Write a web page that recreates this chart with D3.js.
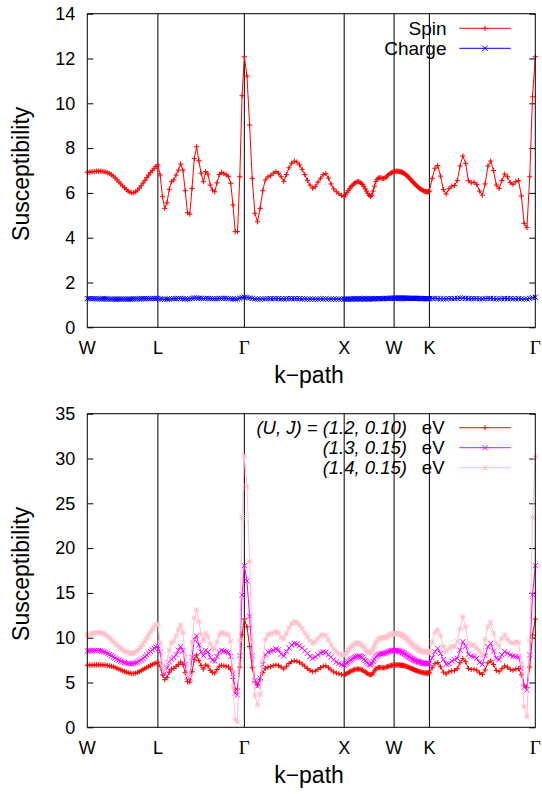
<!DOCTYPE html>
<html>
<head>
<meta charset="utf-8">
<script src="https://cdn.jsdelivr.net/npm/d3@7/dist/d3.min.js"></script>
<style>
  html, body { margin: 0; padding: 0; background: #fff; }
  svg { display: block; }
</style>
</head>
<body>
<svg id="chart" width="542" height="794"></svg>
<script>
// High-symmetry points of the FCC path and their cumulative k-distance (2π/a)
const kLabels = ["W", "L", "Γ", "X", "W", "K", "Γ"];
const kTicks = [0, 0.7071, 1.5731, 2.5731, 3.0731, 3.4267, 4.4874];
const pointsPerSegment = 38;

// Spin susceptibility, (U, J) = (1.2, 0.10) eV
const spin = [
  6.92, 6.93, 6.94, 6.95, 6.96, 6.97, 6.97, 6.97, 6.96, 6.95, 6.93, 6.90, 6.86, 6.81, 6.75, 6.67, 6.58, 6.49, 6.40, 6.31,
  6.23, 6.15, 6.08, 6.03, 6.00, 6.01, 6.05, 6.12, 6.21, 6.32, 6.44, 6.56, 6.68, 6.80, 6.91, 7.01, 7.10, 7.18,
  7.25, 6.80, 5.83, 5.31, 5.56, 6.16, 6.50, 6.58, 6.80, 7.02, 7.29, 7.02, 6.10, 5.12, 5.05, 6.20, 7.54, 8.06, 7.44, 6.88,
  6.50, 6.95, 6.84, 6.35, 6.13, 6.05, 6.45, 6.82, 6.92, 6.86, 6.81, 6.74, 6.43, 5.46, 4.27, 4.27, 6.72, 10.34,
  12.08, 11.22, 9.03, 6.65, 5.09, 4.71, 5.31, 6.10, 6.58, 6.72, 6.77, 6.88, 6.95, 6.88, 6.72, 6.52, 6.82, 7.12, 7.32, 7.42,
  7.38, 7.25, 7.05, 6.82, 6.56, 6.35, 6.21, 6.28, 6.48, 6.66, 6.82, 6.86, 6.66, 6.40, 6.18, 6.05, 5.96, 5.89,
  5.83, 5.92, 6.01, 6.10, 6.18, 6.26, 6.33, 6.39, 6.44, 6.48, 6.50, 6.50, 6.48, 6.43, 6.37, 6.28, 6.18, 6.08, 5.98, 5.89,
  5.84, 5.90, 6.08, 6.30, 6.50, 6.61, 6.66, 6.68, 6.67, 6.65, 6.64, 6.66, 6.71, 6.77, 6.83, 6.87, 6.90, 6.93,
  6.95, 6.96, 6.96, 6.96, 6.96, 6.96, 6.95, 6.94, 6.93, 6.91, 6.89, 6.86, 6.83, 6.80, 6.76, 6.72, 6.68, 6.63, 6.59, 6.54,
  6.50, 6.46, 6.41, 6.37, 6.33, 6.29, 6.25, 6.22, 6.19, 6.16, 6.13, 6.11, 6.09, 6.07, 6.06, 6.05, 6.05, 6.06,
  6.08, 6.65, 7.10, 7.22, 6.75, 6.15, 5.95, 6.18, 6.30, 6.33, 6.55, 7.20, 7.65, 7.32, 6.55, 6.45, 6.48, 6.38, 6.08, 5.90,
  6.40, 7.20, 7.42, 7.00, 6.35, 6.20, 6.55, 6.84, 6.72, 6.46, 6.38, 6.50, 6.55, 5.86, 4.64, 4.45, 6.72, 10.29,
  12.08
];

// Charge susceptibility, (U, J) = (1.2, 0.10) eV
const charge = [
  1.28, 1.28, 1.28, 1.28, 1.28, 1.27, 1.27, 1.27, 1.27, 1.27, 1.27, 1.27, 1.26, 1.26, 1.26, 1.26, 1.26, 1.26, 1.26, 1.26,
  1.26, 1.26, 1.26, 1.26, 1.26, 1.27, 1.27, 1.27, 1.27, 1.27, 1.28, 1.28, 1.28, 1.28, 1.28, 1.29, 1.29, 1.29,
  1.29, 1.27, 1.26, 1.25, 1.26, 1.27, 1.27, 1.28, 1.28, 1.29, 1.29, 1.28, 1.27, 1.26, 1.27, 1.29, 1.31, 1.31, 1.30, 1.29,
  1.28, 1.29, 1.29, 1.28, 1.28, 1.28, 1.28, 1.29, 1.29, 1.29, 1.29, 1.28, 1.28, 1.27, 1.26, 1.27, 1.30, 1.33,
  1.34, 1.33, 1.31, 1.29, 1.27, 1.26, 1.26, 1.27, 1.27, 1.28, 1.28, 1.28, 1.28, 1.28, 1.27, 1.27, 1.28, 1.28, 1.28, 1.28,
  1.28, 1.28, 1.27, 1.27, 1.26, 1.26, 1.26, 1.26, 1.26, 1.27, 1.27, 1.27, 1.26, 1.26, 1.26, 1.26, 1.26, 1.26,
  1.26, 1.26, 1.26, 1.26, 1.26, 1.26, 1.27, 1.27, 1.27, 1.27, 1.27, 1.27, 1.27, 1.27, 1.27, 1.27, 1.27, 1.27, 1.27, 1.27,
  1.27, 1.27, 1.27, 1.28, 1.28, 1.28, 1.28, 1.28, 1.28, 1.28, 1.28, 1.29, 1.29, 1.29, 1.29, 1.29, 1.30, 1.30,
  1.30, 1.30, 1.30, 1.30, 1.30, 1.30, 1.30, 1.30, 1.30, 1.30, 1.30, 1.30, 1.30, 1.30, 1.30, 1.29, 1.29, 1.29, 1.29, 1.29,
  1.29, 1.29, 1.29, 1.29, 1.29, 1.29, 1.29, 1.29, 1.29, 1.28, 1.28, 1.28, 1.28, 1.28, 1.28, 1.28, 1.28, 1.28,
  1.28, 1.29, 1.29, 1.28, 1.27, 1.27, 1.27, 1.28, 1.28, 1.28, 1.29, 1.30, 1.30, 1.29, 1.28, 1.28, 1.28, 1.28, 1.27, 1.27,
  1.28, 1.29, 1.29, 1.28, 1.27, 1.27, 1.28, 1.29, 1.28, 1.28, 1.27, 1.27, 1.28, 1.27, 1.26, 1.26, 1.29, 1.32,
  1.34
];

// Spin susceptibility, (U, J) = (1.3, 0.15) eV
const spinU13 = [
  8.52, 8.54, 8.55, 8.56, 8.57, 8.57, 8.56, 8.54, 8.50, 8.44, 8.35, 8.24, 8.12, 7.99, 7.86, 7.72, 7.60, 7.49, 7.39, 7.30,
  7.22, 7.16, 7.12, 7.10, 7.10, 7.13, 7.19, 7.28, 7.40, 7.54, 7.70, 7.88, 8.07, 8.27, 8.47, 8.65, 8.82, 8.96,
  9.07, 8.40, 6.60, 5.90, 6.60, 7.30, 7.60, 7.80, 8.10, 8.60, 9.00, 8.50, 7.00, 5.60, 5.50, 7.80, 9.80, 10.20, 9.20, 8.40,
  8.00, 8.60, 8.40, 7.80, 7.50, 7.40, 7.90, 8.40, 8.60, 8.50, 8.45, 8.35, 7.90, 6.00, 3.80, 3.60, 8.00, 14.77,
  18.04, 16.33, 12.40, 8.00, 5.20, 4.60, 5.50, 7.00, 8.10, 8.40, 8.50, 8.60, 8.75, 8.65, 8.15, 7.96, 8.45, 8.85, 9.20, 9.37,
  9.30, 9.10, 8.85, 8.55, 8.25, 7.90, 7.70, 7.85, 8.10, 8.30, 8.42, 8.38, 8.10, 7.82, 7.55, 7.30, 7.12, 7.00,
  6.95, 7.07, 7.19, 7.31, 7.42, 7.53, 7.63, 7.72, 7.80, 7.87, 7.93, 7.96, 7.95, 7.89, 7.78, 7.62, 7.45, 7.28, 7.12, 7.00,
  6.96, 7.08, 7.35, 7.62, 7.85, 8.00, 8.10, 8.17, 8.20, 8.22, 8.24, 8.28, 8.34, 8.41, 8.47, 8.52, 8.55, 8.57,
  8.58, 8.58, 8.58, 8.57, 8.55, 8.52, 8.48, 8.44, 8.39, 8.34, 8.28, 8.22, 8.15, 8.08, 8.01, 7.94, 7.87, 7.80, 7.73, 7.66,
  7.60, 7.54, 7.49, 7.44, 7.40, 7.36, 7.32, 7.29, 7.26, 7.23, 7.20, 7.17, 7.15, 7.13, 7.11, 7.10, 7.10, 7.10,
  7.10, 7.75, 8.45, 8.80, 8.25, 7.55, 7.05, 7.10, 7.40, 7.55, 7.70, 8.60, 9.55, 9.05, 8.15, 7.95, 7.90, 7.70, 7.25, 7.00,
  8.00, 9.00, 9.37, 8.50, 7.70, 7.55, 8.10, 8.45, 8.25, 8.05, 7.95, 7.90, 7.85, 6.60, 4.50, 4.16, 8.07, 14.80,
  18.04
];

// Spin susceptibility, (U, J) = (1.4, 0.15) eV
const spinU14 = [
  10.30, 10.36, 10.42, 10.48, 10.53, 10.56, 10.57, 10.56, 10.52, 10.43, 10.30, 10.14, 9.96, 9.76, 9.56, 9.36, 9.17, 8.99, 8.82, 8.66,
  8.52, 8.40, 8.31, 8.26, 8.25, 8.30, 8.40, 8.56, 8.77, 9.02, 9.30, 9.60, 9.93, 10.27, 10.62, 10.95, 11.22, 11.40,
  11.50, 9.40, 6.80, 6.30, 7.30, 8.60, 9.40, 9.60, 10.20, 10.90, 11.40, 10.60, 8.00, 5.80, 5.70, 9.50, 12.20, 13.10, 11.80, 10.30,
  9.70, 10.50, 10.10, 9.30, 8.80, 8.70, 9.50, 10.30, 10.60, 10.50, 10.40, 10.30, 9.60, 4.50, 0.85, 0.60, 9.70, 23.40,
  30.20, 26.85, 18.50, 9.50, 3.60, 2.50, 3.70, 7.50, 9.80, 10.35, 10.45, 10.56, 10.67, 10.55, 10.05, 9.85, 10.50, 11.10, 11.55, 11.79,
  11.70, 11.40, 11.00, 10.55, 10.10, 9.65, 9.37, 9.55, 9.93, 10.20, 10.32, 10.25, 9.75, 9.20, 8.75, 8.40, 8.20, 8.10,
  8.07, 8.22, 8.40, 8.58, 8.76, 8.93, 9.08, 9.21, 9.31, 9.37, 9.39, 9.37, 9.31, 9.21, 9.07, 8.90, 8.72, 8.54, 8.39, 8.30,
  8.30, 8.45, 8.75, 9.10, 9.42, 9.65, 9.82, 9.92, 9.96, 9.98, 9.99, 10.00, 10.04, 10.12, 10.22, 10.32, 10.40, 10.44,
  10.45, 10.46, 10.47, 10.47, 10.46, 10.44, 10.41, 10.37, 10.31, 10.25, 10.18, 10.10, 10.02, 9.94, 9.84, 9.73, 9.62, 9.51, 9.40, 9.29,
  9.19, 9.10, 9.01, 8.93, 8.85, 8.78, 8.71, 8.65, 8.60, 8.55, 8.51, 8.47, 8.44, 8.42, 8.40, 8.39, 8.39, 8.40,
  8.42, 9.50, 10.60, 10.86, 10.20, 9.00, 8.45, 8.80, 9.00, 9.00, 9.60, 11.00, 12.35, 11.20, 9.40, 9.10, 9.20, 8.85, 8.50, 7.90,
  9.80, 11.20, 11.70, 10.50, 9.40, 9.05, 9.90, 10.30, 9.80, 9.50, 9.40, 9.50, 9.45, 7.10, 2.30, 1.20, 9.70, 23.40,
  30.20
];

const topTicks = [0, 2, 4, 6, 8, 10, 12, 14];
const bottomTicks = [0, 5, 10, 15, 20, 25, 30, 35];

// k-distance of every sampled point: equal number of points on each segment
function kOf(i) {
  const s = Math.min(Math.floor(i / pointsPerSegment), kTicks.length - 2);
  const j = i - s * pointsPerSegment;
  return kTicks[s] + (kTicks[s + 1] - kTicks[s]) * j / pointsPerSegment;
}

const svg = d3.select("#chart");
const FONT = "'Liberation Sans', Arial, Helvetica, sans-serif";
const SERIF = "'Liberation Serif', 'Times New Roman', serif";

const x = d3.scaleLinear().domain([0, kTicks[kTicks.length - 1]]).range([87.3, 535.3]);

// marker shapes (gnuplot point types 1, 2, 3)
function markerPath(type, px, py, s) {
  const plus = `M${px - s},${py}H${px + s}M${px},${py - s}V${py + s}`;
  const cross = `M${px - s},${py - s}L${px + s},${py + s}M${px - s},${py + s}L${px + s},${py - s}`;
  if (type === "plus") return plus;
  if (type === "cross") return cross;
  return plus + cross;
}

function drawPanel(cfg) {
  const y = d3.scaleLinear().domain([0, cfg.yMax]).range([cfg.bottom, cfg.top]);
  const g = svg.append("g");

  // vertical lines at the high-symmetry points
  g.selectAll("line.ksym")
    .data(kTicks.slice(1, -1))
    .join("line")
    .attr("x1", d => x(d)).attr("x2", d => x(d))
    .attr("y1", cfg.top).attr("y2", cfg.bottom)
    .attr("stroke", "#000").attr("stroke-width", 1);

  // y axes, ticks pointing inward on both sides
  const left = g.append("g").attr("transform", `translate(${x.range()[0]},0)`)
    .call(d3.axisLeft(y).tickValues(cfg.ticks).tickSize(-6).tickPadding(12).tickFormat(d3.format("d")));
  left.select(".domain").remove();
  left.selectAll("text").attr("font-family", FONT).attr("font-size", 18).attr("fill", "#000");
  left.selectAll("line").attr("stroke", "#000");

  const right = g.append("g").attr("transform", `translate(${x.range()[1]},0)`)
    .call(d3.axisRight(y).tickValues(cfg.ticks).tickSize(-6).tickFormat(""));
  right.select(".domain").remove();
  right.selectAll("line").attr("stroke", "#000");

  // k-path labels
  g.selectAll("text.klabel")
    .data(kLabels.map((l, i) => ({ l, k: kTicks[i] })))
    .join("text")
    .attr("x", d => x(d.k))
    .attr("y", cfg.bottom + 26.5)
    .attr("text-anchor", "middle")
    .attr("font-family", d => d.l === "Γ" ? SERIF : FONT)
    .attr("font-size", d => d.l === "Γ" ? 19 : 18)
    .text(d => d.l);

  // axis titles
  g.append("text")
    .attr("x", 309).attr("y", cfg.bottom + 55.5)
    .attr("text-anchor", "middle")
    .attr("font-family", FONT).attr("font-size", 23)
    .text("k−path");
  g.append("text")
    .attr("transform", `translate(28.5,${(cfg.top + cfg.bottom) / 2 + 3.3}) rotate(-90)`)
    .attr("text-anchor", "middle")
    .attr("font-family", FONT).attr("font-size", 23)
    .text("Susceptibility");

  // data series
  const line = d3.line().x((d, i) => x(kOf(i))).y(d => y(d));
  cfg.series.forEach(s => {
    g.append("path")
      .attr("d", line(s.values))
      .attr("fill", "none").attr("stroke", s.color).attr("stroke-width", 1);
    g.append("path")
      .attr("d", s.values.map((v, i) => markerPath(s.marker, x(kOf(i)), y(v), 2.6)).join(""))
      .attr("fill", "none").attr("stroke", s.color).attr("stroke-width", 1);
  });

  // legend
  cfg.series.forEach((s, i) => {
    const ly = cfg.legendY + i * 20;
    g.append("line")
      .attr("x1", 459.3).attr("x2", 510.7).attr("y1", ly).attr("y2", ly)
      .attr("stroke", s.color).attr("stroke-width", 1);
    g.append("path")
      .attr("d", markerPath(s.marker, 485, ly, 2.6))
      .attr("fill", "none").attr("stroke", s.color).attr("stroke-width", 1);
    if (s.italic) {
      g.append("text")
        .attr("x", 407).attr("y", ly + 6.7)
        .attr("text-anchor", "end")
        .attr("font-family", FONT).attr("font-size", 18.5).attr("font-style", "italic")
        .text(s.italic);
      g.append("text")
        .attr("x", 444.5).attr("y", ly + 6.7)
        .attr("text-anchor", "end")
        .attr("font-family", FONT).attr("font-size", 18.5)
        .text("eV");
    } else {
      g.append("text")
        .attr("x", 446.5).attr("y", ly + 6.7)
        .attr("text-anchor", "end")
        .attr("font-family", FONT).attr("font-size", 19)
        .text(s.label);
    }
  });

  // plot border
  g.append("rect")
    .attr("x", x.range()[0]).attr("y", cfg.top)
    .attr("width", x.range()[1] - x.range()[0]).attr("height", cfg.bottom - cfg.top)
    .attr("fill", "none").attr("stroke", "#000").attr("stroke-width", 1);
}

drawPanel({
  top: 13.7, bottom: 327.3, yMax: 14, ticks: topTicks, legendY: 28.3,
  series: [
    { label: "Spin", values: spin, color: "#ff0000", marker: "plus" },
    { label: "Charge", values: charge, color: "#0000ff", marker: "cross" }
  ]
});

drawPanel({
  top: 413.7, bottom: 727.3, yMax: 35, ticks: bottomTicks, legendY: 427.7,
  series: [
    { italic: "(U, J) = (1.2, 0.10)", values: spin, color: "#ff0000", marker: "plus" },
    { italic: "(1.3, 0.15)", values: spinU13, color: "#ff00ff", marker: "cross" },
    { italic: "(1.4, 0.15)", values: spinU14, color: "#ffc0cb", marker: "star" }
  ]
});
</script>
</body>
</html>
